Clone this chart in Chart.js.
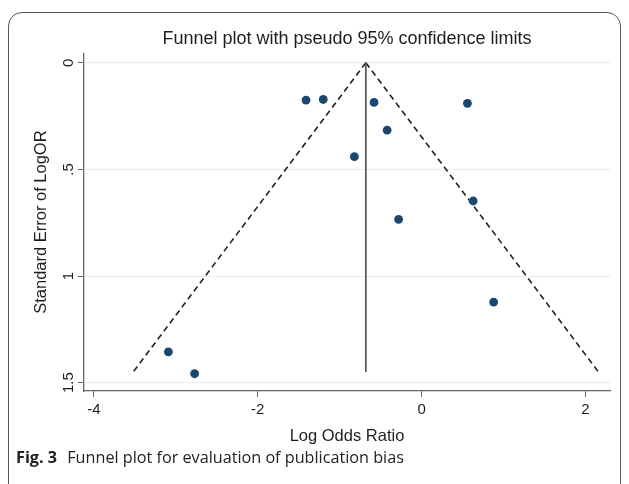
<!DOCTYPE html>
<html>
<head>
<meta charset="utf-8">
<script src="https://cdn.jsdelivr.net/npm/chart.js@4"></script>
<style>
  html, body { margin: 0; padding: 0; background: #fff; }
  body { width: 629px; height: 484px; position: relative; overflow: hidden; }
  #frame {
    position: absolute; left: 8px; top: 12px; width: 611px; height: 500px;
    border: 1.5px solid #555; border-radius: 14px;
  }
  #wrap { position: absolute; left: 0; top: 0; width: 629px; height: 484px; }
  #caption {
    position: absolute; left: 16px; top: 446px;
    font-family: "Open Sans", "Noto Sans", sans-serif; font-size: 16.2px; color: #222;
    white-space: nowrap;
  }
  #caption b { margin-right: 6px; }
</style>
</head>
<body>
<div id="frame"></div>
<div id="wrap"><canvas id="myChart" width="629" height="484"></canvas></div>
<div id="caption"><b>Fig. 3</b> Funnel plot for evaluation of publication bias</div>
<script>
window.addEventListener("DOMContentLoaded", () => {

  // studies: log odds ratio and its standard error
  const logOR = [-1.41, -1.20, -0.58, 0.56, -0.42, -0.82, 0.63, -0.28, 0.88, -3.09, -2.77];
  const seLogOR = [0.175, 0.172, 0.186, 0.19, 0.316, 0.44, 0.648, 0.734, 1.122, 1.356, 1.458];

  // pooled estimate and pseudo 95% limits (apex -> bottom)
  const pooledX = [-0.68, -0.68];
  const lowerLimitX = [-0.68, -3.52];
  const upperLimitX = [-0.68, 2.16];
  const limitSE = [0, 1.45];

  const xTicks = [-4, -2, 0, 2];
  const yTicks = [0, 0.5, 1, 1.5];
  const yTickLabels = ["0", ".5", "1", "1.5"];

  const textFont = "'Liberation Sans', Arial, sans-serif";
  const toXY = (xs, ys) => xs.map((x, i) => ({ x: x, y: ys[i] }));

  const lineSet = (data, color, dash, width) => ({
    data: data,
    showLine: true,
    borderColor: color,
    borderWidth: width,
    borderDash: dash,
    pointRadius: 0,
    fill: false
  });

  new Chart("myChart", {
    type: "scatter",
    data: {
      datasets: [
        {
          data: toXY(logOR, seLogOR),
          backgroundColor: "#1a476f",
          borderColor: "#1a476f",
          pointRadius: 4.4,
          borderWidth: 0
        },
        lineSet(toXY(pooledX, limitSE), "#555", [], 1.7),
        lineSet(toXY(lowerLimitX, limitSE), "#222", [6, 4], 1.6),
        lineSet(toXY(upperLimitX, limitSE), "#222", [6, 4], 1.6)
      ]
    },
    options: {
      responsive: false,
      animation: false,
      layout: { padding: { left: 0, right: 19, top: 0, bottom: 38 } },
      plugins: {
        legend: { display: false },
        tooltip: { enabled: false },
        title: {
          display: true,
          text: "Funnel plot with pseudo 95% confidence limits",
          fullSize: false,
          color: "#1e1e1e",
          font: { family: textFont, size: 18, weight: "normal" },
          padding: { top: 28, bottom: 3.6 }
        }
      },
      scales: {
        x: {
          type: "linear",
          min: -4.12,
          max: 2.30,
          afterBuildTicks: (scale) => { scale.ticks = xTicks.map(v => ({ value: v })); },
          afterFit: (scale) => { scale.height = 55; },
          grid: { drawOnChartArea: false, drawTicks: true, tickLength: 6, tickColor: "#666" },
          border: { color: "#666", width: 1.3 },
          ticks: {
            color: "#1e1e1e",
            padding: 4,
            maxRotation: 0,
            font: { family: textFont, size: 15 }
          },
          title: {
            display: true,
            text: "Log Odds Ratio",
            color: "#1e1e1e",
            padding: { top: 0, bottom: 0 },
            font: { family: textFont, size: 16.5 }
          }
        },
        y: {
          type: "linear",
          reverse: true,
          min: -0.045,
          max: 1.539,
          afterBuildTicks: (scale) => { scale.ticks = yTicks.map(v => ({ value: v })); },
          afterFit: (scale) => { scale.width = 84; },
          grid: { color: "#e4ecef", lineWidth: 1, tickLength: 6, tickColor: "#666" },
          border: { color: "#666", width: 1.3 },
          ticks: {
            color: "#1e1e1e",
            padding: -1.5,
            minRotation: 90,
            maxRotation: 90,
            crossAlign: "center",
            font: { family: textFont, size: 15 },
            callback: (value) => yTickLabels[yTicks.indexOf(value)]
          },
          title: {
            display: true,
            text: "Standard Error of LogOR",
            color: "#1e1e1e",
            padding: { top: 32, bottom: 0 },
            font: { family: textFont, size: 16.5 }
          }
        }
      }
    }
  });
});
</script>
</body>
</html>
